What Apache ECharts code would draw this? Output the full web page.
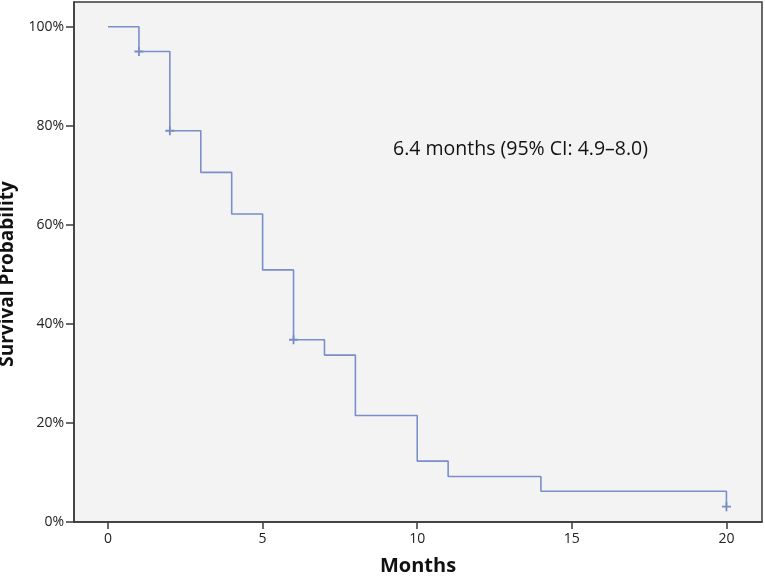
<!DOCTYPE html>
<html>
<head>
<meta charset="utf-8">
<script src="https://cdn.jsdelivr.net/npm/echarts@6/dist/echarts.min.js"></script>
<style>
html,body{margin:0;padding:0;background:#fff;}
#chart{width:765px;height:576px;}
</style>
</head>
<body>
<div id="chart"></div>
<script>
// Kaplan-Meier step points (months, survival %)
const stepMonths = [0, 1, 2, 3, 4, 5, 6, 7, 8, 10, 11, 14, 20];
const stepSurvival = [100, 95, 79, 70.6, 62.2, 50.9, 36.8, 33.7, 21.5, 12.3, 9.2, 6.2, 3.1];
// Censored observations
const censorMonths = [1, 2, 6, 20];
const censorSurvival = [95, 79, 36.8, 3.1];
// Axis ticks
const xTicks = [0, 5, 10, 15, 20];
const yTicks = [0, 20, 40, 60, 80, 100];
const annotation = '6.4 months (95% CI: 4.9\u20138.0)';

const font = '"Open Sans", "Noto Sans", sans-serif';
const lineColor = '#7a8ecb';

const chart = echarts.init(document.getElementById('chart'), null, {renderer: 'canvas'});
chart.setOption({
  animation: false,
  backgroundColor: '#ffffff',
  grid: {
    left: 74, top: 2, right: 3, bottom: 54,
    containLabel: false, outerBoundsMode: 'none',
    show: true, backgroundColor: '#f3f3f3', borderColor: '#3a3a3a', borderWidth: 1.5
  },
  xAxis: {
    type: 'value', min: -1.1, max: 21.15,
    name: 'Months', nameLocation: 'middle', nameGap: 34,
    nameTextStyle: {fontFamily: font, fontSize: 20, fontWeight: 'bold', color: '#111'},
    axisLine: {show: true, onZero: false, lineStyle: {color: '#3a3a3a', width: 1.5}},
    axisTick: {show: true, length: 7, customValues: xTicks, lineStyle: {color: '#3a3a3a', width: 1.5}},
    axisLabel: {customValues: xTicks, margin: 10, fontFamily: font, fontSize: 14, color: '#222'},
    splitLine: {show: false}
  },
  yAxis: {
    type: 'value', min: 0, max: 105,
    name: 'Survival Probability', nameLocation: 'middle', nameGap: 52,
    nameTextStyle: {fontFamily: font, fontSize: 19, fontWeight: 'bold', color: '#111', padding: [0, 24, 0, 0]},
    axisLine: {show: true, onZero: false, lineStyle: {color: '#3a3a3a', width: 1.5}},
    axisTick: {show: true, length: 8, customValues: yTicks, lineStyle: {color: '#3a3a3a', width: 1.5}},
    axisLabel: {customValues: yTicks, margin: 10, fontFamily: font, fontSize: 14, color: '#222',
      formatter: v => v + '%'},
    splitLine: {show: false}
  },
  graphic: [{
    type: 'text', left: 393, top: 139,
    style: {text: annotation, fontFamily: font, fontSize: 19.5, fill: '#111'}
  }],
  series: [
    {
      type: 'line', step: 'end', showSymbol: false,
      data: stepMonths.map((m, i) => [m, stepSurvival[i]]),
      lineStyle: {color: lineColor, width: 1.6}
    },
    {
      type: 'scatter',
      symbol: 'path://M4,0H6V4H10V6H6V10H4V6H0V4H4Z',
      symbolSize: 9,
      itemStyle: {color: '#5a70b8'},
      data: censorMonths.map((m, i) => [m, censorSurvival[i]])
    }
  ]
});
</script>
</body>
</html>
